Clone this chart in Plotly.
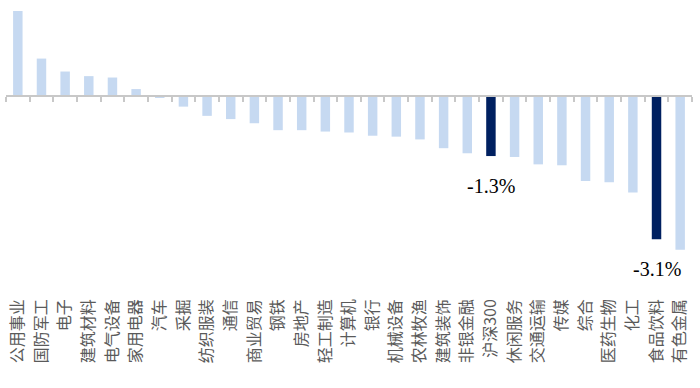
import plotly.graph_objects as go

categories = ["公用事业", "国防军工", "电子", "建筑材料", "电气设备", "家用电器", "汽车", "采掘",
              "纺织服装", "通信", "商业贸易", "钢铁", "房地产", "轻工制造", "计算机", "银行",
              "机械设备", "农林牧渔", "建筑装饰", "非银金融", "沪深300", "休闲服务", "交通运输",
              "传媒", "综合", "医药生物", "化工", "食品饮料", "有色金属"]
values = [1.84, 0.81, 0.53, 0.43, 0.40, 0.15, -0.03, -0.23,
          -0.43, -0.50, -0.59, -0.74, -0.74, -0.77, -0.79, -0.86,
          -0.88, -0.94, -1.13, -1.24, -1.30, -1.32, -1.48,
          -1.50, -1.84, -1.87, -2.09, -3.10, -3.33]
highlight = ["沪深300", "食品饮料"]
highlight_labels = ["-1.3%", "-3.1%"]

LIGHT = "#C6D9F1"
DARK = "#002060"
colors = [DARK if c in highlight else LIGHT for c in categories]

ymin, ymax = -4.2, 1.97
zero_pos = (0 - ymin) / (ymax - ymin)

fig = go.Figure()
fig.add_trace(go.Bar(x=categories, y=values, marker=dict(color=colors, line=dict(width=0)),
                     hoverinfo="x+y", showlegend=False))
fig.add_trace(go.Scatter(x=categories, y=[0] * len(categories), xaxis="x2", mode="markers",
                         marker=dict(opacity=0), hoverinfo="skip", showlegend=False))

for c, lab in zip(highlight, highlight_labels):
    v = values[categories.index(c)]
    fig.add_annotation(x=c, y=v, text=lab, showarrow=False, yanchor="top", yshift=-17,
                       font=dict(family="Liberation Serif, Times New Roman, serif", size=20, color="#000000"))

fig.update_layout(
    width=700, height=388,
    margin=dict(l=6, r=8, t=5, b=98, autoexpand=False),
    paper_bgcolor="white", plot_bgcolor="white",
    bargap=0.6,
    xaxis=dict(type="category", categoryarray=categories, categoryorder="array", automargin=False,
               range=[-0.5, len(categories) - 0.5], showline=False, showgrid=False, zeroline=False,
               ticks="", tickangle=-90, ticklabelstandoff=5,
               tickfont=dict(family="Noto Sans CJK SC", size=16, color="#5A5A5A")),
    xaxis2=dict(type="category", categoryarray=categories, categoryorder="array", automargin=False,
                range=[-0.5, len(categories) - 0.5], overlaying="x", anchor="free", position=zero_pos,
                side="bottom", showline=True, linecolor="#C8C8C8", linewidth=2,
                ticks="outside", ticklen=5, tickcolor="#C8C8C8", tickwidth=1.5, tickson="boundaries",
                showticklabels=False, showgrid=False, zeroline=False),
    yaxis=dict(range=[ymin, ymax], visible=False, showgrid=False, zeroline=False, automargin=False),
)

fig.write_html("out.html", config={"displayModeBar": False},
               post_script="document.body.style.margin='0';document.body.style.overflow='hidden';")
